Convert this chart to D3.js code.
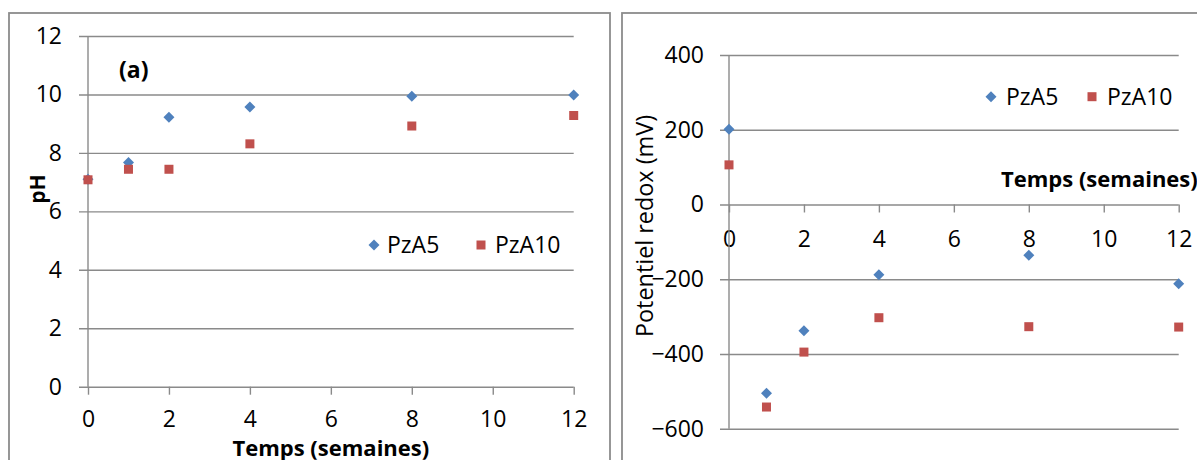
<!DOCTYPE html>
<html>
<head>
<meta charset="utf-8">
<script src="https://cdn.jsdelivr.net/npm/d3@7"></script>
<style>
  html, body { margin: 0; padding: 0; background: #fff; }
  svg { display: block; font-family: "Open Sans", sans-serif; }
</style>
</head>
<body>
<svg id="chart" width="1197" height="460"></svg>
<script>
// ---- Data ----
const weeks = [0, 1, 2, 4, 8, 12];
const seriesNames = ["PzA5", "PzA10"];
const phPzA5 = [7.10, 7.67, 9.22, 9.57, 9.94, 9.98];
const phPzA10 = [7.08, 7.44, 7.44, 8.31, 8.92, 9.28];
const redoxPzA5 = [201, -505, -338, -188, -136, -212];
const redoxPzA10 = [106, -542, -395, -303, -327, -328];
const xTicks = [0, 2, 4, 6, 8, 10, 12];
const phTicks = [0, 2, 4, 6, 8, 10, 12];
const redoxTicks = [-600, -400, -200, 0, 200, 400];
const xTitle = "Temps (semaines)";
const phTitle = "pH";
const redoxTitle = "Potentiel redox (mV)";
const panelLabel = "(a)";

const blue = "#4F81BD", red = "#C0504D", grid = "#8a8a8a", frame = "#8c8c8c";
const svg = d3.select("#chart");

// frames
svg.append("rect").attr("x", 9).attr("y", 13).attr("width", 601).attr("height", 470)
  .attr("fill", "none").attr("stroke", frame).attr("stroke-width", 1.8);
svg.append("rect").attr("x", 622).attr("y", 13).attr("width", 600).attr("height", 470)
  .attr("fill", "none").attr("stroke", frame).attr("stroke-width", 1.8);

function diamond(g, cx, cy, r, color) {
  g.append("path").attr("d", `M${cx},${cy - r}L${cx + r},${cy}L${cx},${cy + r}L${cx - r},${cy}Z`).attr("fill", color);
}
function square(g, cx, cy, s, color) {
  g.append("rect").attr("x", cx - s / 2).attr("y", cy - s / 2).attr("width", s).attr("height", s).attr("fill", color);
}

function panel(opts) {
  const { x, y, yTicks, s1, s2, xAxisAt } = opts;
  const g = svg.append("g");
  const [x0, x1] = x.range();
  // horizontal gridlines + y labels
  const ya = d3.axisLeft(y).tickValues(yTicks).tickSizeInner(-(x1 - x0 + 9)).tickSizeOuter(0).tickPadding(opts.yPad)
    .tickFormat(d3.format("d"));
  const yg = g.append("g").attr("transform", `translate(${x0 - 9},0)`).call(ya);
  yg.select(".domain").remove();
  yg.selectAll(".tick line").attr("stroke", grid).attr("stroke-width", 1.4);
  yg.selectAll(".tick text").attr("font-size", 23).attr("fill", "#000").attr("font-family", "Open Sans");
  // x axis ticks
  const xa = d3.axisBottom(x).tickValues(xTicks).tickSizeInner(8).tickSizeOuter(0).tickPadding(opts.xPad);
  const xg = g.append("g").attr("transform", `translate(0,${y(xAxisAt)})`).call(xa);
  xg.select(".domain").remove();
  xg.selectAll(".tick line").attr("stroke", grid).attr("stroke-width", 1.4);
  xg.selectAll(".tick text").attr("font-size", 23).attr("fill", "#000").attr("font-family", "Open Sans");
  // vertical axis line
  const [yb, yt] = y.range();
  g.append("line").attr("x1", x0).attr("x2", x0).attr("y1", yt).attr("y2", yb)
    .attr("stroke", grid).attr("stroke-width", 1.4);
  // markers
  weeks.forEach((w, i) => diamond(g, x(w), y(s1[i]), 5.5, blue));
  weeks.forEach((w, i) => square(g, x(w), y(s2[i]), 9, red));
  return g;
}

// ---- Left panel (pH) ----
const xL = d3.scaleLinear().domain([0, 12]).range([88, 573.7]);
const yL = d3.scaleLinear().domain([0, 12]).range([386.7, 36]);
const gL = panel({ x: xL, y: yL, yTicks: phTicks, s1: phPzA5, s2: phPzA10, xAxisAt: 0, yPad: 17, xPad: 16 });
gL.append("text").attr("x", (88 + 573.7) / 2).attr("y", 456).attr("text-anchor", "middle")
  .attr("font-weight", "bold").attr("font-size", 22).text(xTitle);
gL.append("text").attr("transform", "translate(45,189) rotate(-90)").attr("text-anchor", "middle")
  .attr("font-weight", "bold").attr("font-size", 21).text(phTitle);
gL.append("text").attr("x", 119).attr("y", 78).attr("font-weight", "bold").attr("font-size", 23).text(panelLabel);
// legend left
diamond(gL, 374, 245, 5.5, blue);
gL.append("text").attr("x", 387).attr("y", 253).attr("font-size", 23).text(seriesNames[0]);
square(gL, 481, 245, 9, red);
gL.append("text").attr("x", 495).attr("y", 253).attr("font-size", 23).text(seriesNames[1]);

// ---- Right panel (redox) ----
const xR = d3.scaleLinear().domain([0, 12]).range([729, 1178.7]);
const yR = d3.scaleLinear().domain([-600, 400]).range([428.7, 55]);
const gR = panel({ x: xR, y: yR, yTicks: redoxTicks, s1: redoxPzA5, s2: redoxPzA10, xAxisAt: 0, yPad: 16, xPad: 18 });
gR.append("text").attr("x", 1001).attr("y", 187).attr("font-weight", "bold").attr("font-size", 22).text(xTitle);
gR.append("text").attr("transform", "translate(653,226) rotate(-90)").attr("text-anchor", "middle")
  .attr("font-size", 23.4).text(redoxTitle);
// legend right
diamond(gR, 991, 96.7, 5.5, blue);
gR.append("text").attr("x", 1006).attr("y", 104.5).attr("font-size", 23).text(seriesNames[0]);
square(gR, 1092, 96.7, 9, red);
gR.append("text").attr("x", 1107).attr("y", 104.5).attr("font-size", 23).text(seriesNames[1]);
</script>
</body>
</html>
